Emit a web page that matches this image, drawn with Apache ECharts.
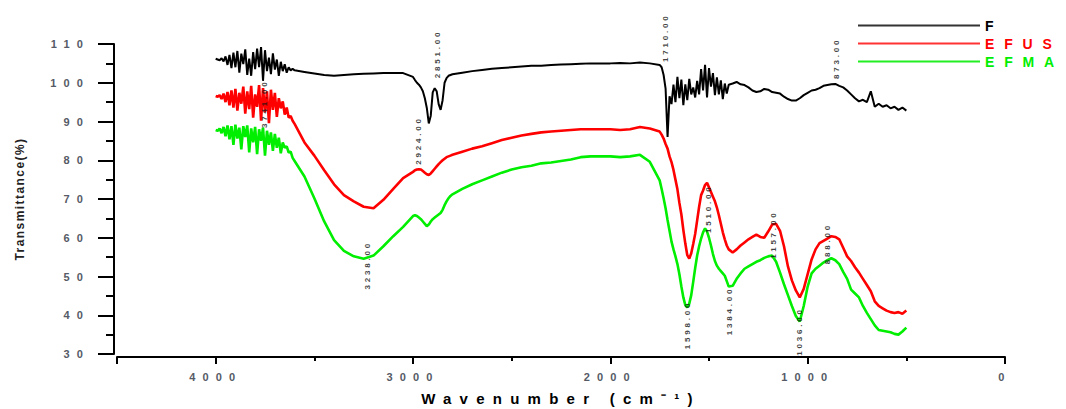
<!DOCTYPE html>
<html lang="en">
<head>
<meta charset="utf-8">
<title>FTIR spectra - F, EFUS, EFMA</title>
<script src="https://cdn.jsdelivr.net/npm/echarts@6/dist/echarts.min.js"></script>
<style>
html, body { margin: 0; padding: 0; background: #fff; }
#chart { width: 1066px; height: 409px; }
</style>
</head>
<body>
<div id="chart"></div>
<script>
// sample positions (cm-1), shared by the three spectra
const wavenumbers = [
  4000, 3990, 3980, 3970, 3960, 3950, 3940, 3930, 3920, 3910, 3900, 3890, 3880, 3870, 3860, 3850, 3840, 3830, 3820, 3810,
  3800, 3790, 3780, 3770, 3760, 3750, 3740, 3730, 3720, 3710, 3700, 3690, 3680, 3670, 3660, 3650, 3640, 3630, 3620, 3610, 3600,
  3550, 3500, 3450, 3400, 3350, 3300, 3250, 3200, 3150, 3100, 3050,
  3000, 2990, 2980, 2970, 2960, 2950, 2940, 2930, 2920, 2910, 2900, 2890, 2880, 2870, 2860, 2850, 2840, 2830, 2820, 2810, 2800,
  2750, 2700, 2650, 2600, 2550, 2500, 2450, 2400, 2350, 2300, 2250, 2200, 2150, 2100, 2050, 2000, 1950, 1900, 1850, 1800, 1750,
  1740, 1730, 1720, 1710, 1700, 1690, 1680, 1670, 1660, 1650, 1640, 1630, 1620, 1610, 1600, 1590, 1580, 1570, 1560, 1550,
  1540, 1530, 1520, 1510, 1500, 1490, 1480, 1470, 1460, 1450, 1440, 1430, 1420, 1410, 1400,
  1380, 1360, 1340, 1320, 1300, 1280, 1260, 1240, 1220, 1200, 1180, 1160, 1140, 1120, 1100, 1080, 1060, 1040, 1020, 1000,
  980, 960, 940, 920, 900, 880, 860, 840, 820, 800, 780, 760, 740, 720, 700, 680, 660, 640, 620, 600, 580, 560, 540, 520, 500
];

const fValues = [
  106.2, 106.0, 105.8, 106.3, 105.5, 106.8, 104.6, 107.2, 103.8, 107.8, 104.0, 108.2, 102.6, 107.5, 104.8, 108.6, 102.0, 106.2, 101.8, 107.9,
  103.5, 108.8, 104.0, 109.2, 100.5, 108.4, 103.0, 106.5, 102.2, 107.6, 103.4, 106.0, 101.8, 105.4, 103.0, 104.8, 102.6, 104.0, 103.2, 103.6, 103.2,
  102.8, 102.4, 102.0, 101.8, 102.0, 102.2, 102.3, 102.4, 102.5, 102.5, 102.5,
  101.5, 100.7, 100.0, 99.5, 98.8, 97.8, 96.0, 93.5, 89.5, 91.5, 97.5, 98.6, 97.8, 94.5, 93.0, 95.5, 100.0, 101.2, 101.8, 102.0, 102.2,
  102.6, 103.0, 103.3, 103.6, 103.8, 104.0, 104.2, 104.4, 104.4, 104.6, 104.7, 104.8, 104.9, 105.0, 105.0, 105.0, 105.1, 105.0, 105.2, 105.0, 104.6,
  104.0, 102.0, 98.5, 86.0, 96.5, 94.5, 99.5, 95.0, 101.5, 96.0, 100.8, 94.2, 99.6, 95.5, 101.0, 97.0, 98.8, 96.2, 100.5, 97.0,
  103.5, 98.0, 104.6, 96.2, 103.8, 99.0, 102.5, 96.8, 101.4, 97.0, 100.6, 95.8, 99.8, 97.2, 99.5,
  99.8, 100.2, 99.6, 99.4, 98.8, 98.0, 97.6, 97.8, 98.4, 98.2, 97.6, 97.4, 97.2, 96.4, 95.8, 95.4, 95.4, 96.0, 96.8, 97.4,
  98.0, 98.2, 98.6, 99.2, 99.4, 99.6, 99.7, 99.2, 98.8, 98.0, 97.0, 96.0, 95.2, 95.6, 95.0, 97.8, 93.8, 94.6, 93.8, 94.2, 93.4, 93.8, 93.0, 93.6, 92.8
];

const efusValues = [
  96.6, 96.4, 96.8, 95.8, 97.2, 95.0, 97.6, 94.2, 98.0, 93.6, 98.4, 92.8, 97.4, 94.6, 99.0, 92.0, 97.8, 93.2, 99.2, 91.0,
  97.0, 93.8, 99.4, 90.2, 98.6, 92.4, 97.8, 89.6, 98.2, 93.0, 97.4, 91.2, 96.0, 93.4, 95.2, 91.8, 93.6, 91.0, 91.4, 90.2, 89.4,
  84.6, 81.2, 77.4, 73.8, 71.0, 69.4, 68.0, 67.6, 69.8, 72.6, 75.4,
  77.0, 77.4, 77.6, 77.7, 77.6, 77.2, 76.8, 76.4, 76.2, 76.6, 77.2, 77.8, 78.4, 79.0, 79.5, 80.0, 80.4, 80.8, 81.0, 81.2, 81.4,
  82.2, 83.0, 83.6, 84.4, 85.2, 85.8, 86.4, 86.8, 87.2, 87.4, 87.6, 87.8, 88.0, 88.0, 88.0, 88.0, 87.8, 88.0, 88.6, 88.2, 87.4,
  86.6, 85.6, 84.2, 83.0, 81.0, 79.5, 77.5, 75.0, 72.5, 69.0, 66.0, 62.0, 58.5, 55.5, 54.6, 56.0, 58.4, 61.0, 64.5, 68.0,
  71.0, 72.2, 73.6, 74.2, 73.0, 71.8, 70.6, 69.4, 67.8, 65.8, 63.6, 61.4, 59.6, 58.0, 57.0,
  56.2, 57.0, 58.0, 58.8, 59.6, 60.2, 60.8, 60.2, 60.0, 61.6, 63.4, 63.6, 61.8, 57.8, 52.6, 49.0, 46.4, 44.6, 46.8, 50.6,
  54.4, 57.0, 58.6, 59.2, 59.8, 60.4, 60.2, 59.6, 57.4, 55.2, 54.0, 52.4, 51.0, 49.4, 47.8, 46.2, 43.6, 42.4, 41.8, 41.2, 40.8, 40.6, 40.8, 40.4, 41.2
];

const efmaValues = [
  87.8, 87.6, 88.2, 87.0, 88.6, 86.2, 89.0, 85.4, 88.8, 84.0, 89.2, 85.6, 88.4, 82.8, 88.8, 86.0, 89.0, 82.0, 88.2, 84.6,
  88.6, 81.6, 88.0, 85.0, 88.4, 81.2, 87.6, 84.0, 87.2, 82.4, 86.8, 83.2, 85.8, 81.8, 84.6, 83.2, 83.6, 82.0, 82.2, 80.6, 79.8,
  75.8, 70.2, 64.2, 59.4, 56.6, 55.2, 54.6, 55.4, 57.8, 60.4, 62.8,
  65.6, 65.8, 65.6, 65.2, 64.8, 64.2, 63.6, 63.0, 63.4, 64.2, 64.8, 65.2, 65.6, 66.0, 66.4, 67.2, 68.4, 69.4, 70.2, 70.8, 71.2,
  72.6, 73.8, 74.8, 75.8, 76.8, 77.6, 78.2, 78.6, 79.2, 79.4, 79.8, 80.2, 80.8, 81.0, 81.0, 81.0, 80.8, 81.0, 81.4, 79.6, 74.8,
  72.6, 70.2, 67.6, 64.6, 61.8, 59.0, 57.0, 55.2, 53.2, 50.6, 47.4, 44.6, 42.6, 42.0, 43.0, 45.2, 48.6, 52.2, 55.4, 57.8,
  59.8, 61.4, 62.4, 61.6, 60.0, 58.0, 55.8, 54.0, 52.8, 52.0, 51.4, 50.8, 50.2, 48.8, 47.4,
  47.6, 49.4, 50.8, 52.0, 52.6, 53.2, 53.8, 54.2, 54.8, 55.2, 55.4, 53.8, 51.0, 48.0, 45.2, 42.4, 39.8, 38.4, 42.4, 47.4,
  50.8, 52.0, 52.8, 53.6, 54.2, 54.7, 54.2, 53.2, 51.2, 49.4, 46.6, 45.6, 44.6, 42.4, 40.6, 39.0, 37.4, 36.2, 36.0, 35.8, 35.6, 35.2, 35.0, 35.8, 36.8
];

// peak annotations: where each rotated label sits, and its text
const peakWavenumbers = [3753, 2971, 2878, 1718, 854, 3231, 1609, 1503, 1395, 1171, 1041, 899];
const peakLabelValues = [94.6, 85.1, 107.4, 111.6, 106.3, 52.9, 37.5, 67.5, 41.1, 60.8, 35.8, 58.5];
const peakTexts = ['3741.00', '2924.00', '2851.00', '1710.00', '873.00', '3238.00',
  '1598.00', '1510.00', '1384.00', '1157.00', '1036.00', '888.00'];

const seriesNames = ['F', 'EFUS', 'EFMA'];
const seriesColors = ['#000000', '#ff0000', '#00ee00'];
const legendLineColors = ['#333333', '#ff3333', '#22ee22'];

const FONT = 'Arial, Liberation Sans';
const X_NAME = 'Wavenumber (cm\u207B\u00B9)';

function toPairs(values) {
  return wavenumbers.map((w, i) => [w, values[i]]);
}

const spectra = [fValues, efusValues, efmaValues].map((vals, i) => ({
  name: seriesNames[i],
  type: 'line',
  data: toPairs(vals),
  symbol: 'none',
  showSymbol: false,
  lineStyle: { color: seriesColors[i], width: i === 0 ? 2 : 2.6 },
  itemStyle: { color: seriesColors[i] },
  z: 3 - i,
  animation: false
}));

const peaks = {
  type: 'scatter',
  data: peakWavenumbers.map((w, i) => [w, peakLabelValues[i]]),
  symbolSize: 1,
  itemStyle: { color: 'rgba(0,0,0,0)' },
  clip: false,
  silent: true,
  z: 10,
  label: {
    show: true,
    position: 'inside',
    rotate: 90,
    formatter: (p) => peakTexts[p.dataIndex],
    fontFamily: FONT,
    fontSize: 8,
    fontWeight: 'bold',
    color: '#111'
  },
  animation: false
};

// axis lines at the exact grid edge did not show, so both axes sit 3px outside the grid
const chart = echarts.init(document.getElementById('chart'), null, { renderer: 'svg' });
chart.setOption({
  backgroundColor: '#fff',
  animation: false,
  grid: { left: 117, right: 61, top: 44, bottom: 55, containLabel: false, outerBoundsMode: 'none' },
  legend: {
    orient: 'vertical',
    left: 858,
    top: 18,
    itemWidth: 122,
    itemHeight: 2,
    itemGap: 3,
    padding: 0,
    textStyle: { fontFamily: FONT, fontSize: 14, fontWeight: 'bold', lineHeight: 15 },
    data: seriesNames.map((n, i) => ({
      name: n,
      icon: 'rect',
      itemStyle: { color: legendLineColors[i] },
      textStyle: { color: seriesColors[i] }
    }))
  },
  xAxis: {
    type: 'value',
    inverse: true,
    min: 0,
    max: 4500,
    interval: 1000,
    offset: 3,
    name: X_NAME,
    nameLocation: 'middle',
    nameGap: 34,
    nameTextStyle: { fontFamily: FONT, fontSize: 15, fontWeight: 'bold', color: '#000' },
    axisLine: { show: true, onZero: false, lineStyle: { color: '#000', width: 2 } },
    axisTick: { show: true, inside: false, length: 7, lineStyle: { color: '#000', width: 2 } },
    minorTick: { show: true, splitNumber: 2, length: 4, lineStyle: { color: '#000', width: 2 } },
    axisLabel: {
      showMaxLabel: false,
      margin: 14,
      formatter: (v) => String(v),
      fontFamily: FONT,
      fontSize: 11,
      fontWeight: 'bold',
      color: '#555a66'
    },
    splitLine: { show: false },
    minorSplitLine: { show: false }
  },
  yAxis: {
    type: 'value',
    position: 'left',
    min: 30,
    max: 110,
    interval: 10,
    offset: 3,
    name: 'Transmittance(%)',
    nameLocation: 'middle',
    nameGap: 88,
    nameTextStyle: { fontFamily: FONT, fontSize: 12, fontWeight: 'bold', color: '#222' },
    axisLine: { show: true, onZero: false, lineStyle: { color: '#000', width: 2 } },
    axisTick: { show: true, inside: false, length: 16, lineStyle: { color: '#000', width: 2 } },
    minorTick: { show: true, splitNumber: 2, length: 8, lineStyle: { color: '#000', width: 2 } },
    axisLabel: {
      margin: 24,
      formatter: (v) => String(v),
      fontFamily: FONT,
      fontSize: 11,
      fontWeight: 'bold',
      color: '#555a66'
    },
    splitLine: { show: false },
    minorSplitLine: { show: false }
  },
  series: spectra.concat([peaks])
});

// the original lettering is widely spaced; zrender has no letter spacing, so set it on the svg text
function spaceLetters() {
  document.querySelectorAll('#chart svg text').forEach((el) => {
    const t = el.textContent;
    let sp = 0;
    if (peakTexts.indexOf(t) >= 0) sp = 0.35;
    else if (/^\d+$/.test(t)) sp = 0.65;
    else if (seriesNames.indexOf(t) >= 0) sp = 0.7;
    else if (t === X_NAME) sp = 0.55;
    else if (t.indexOf('Transmittance') >= 0) sp = 0.12;
    if (sp) el.style.letterSpacing = sp + 'em';
  });
}
chart.on('finished', spaceLetters);
spaceLetters();
</script>
</body>
</html>
